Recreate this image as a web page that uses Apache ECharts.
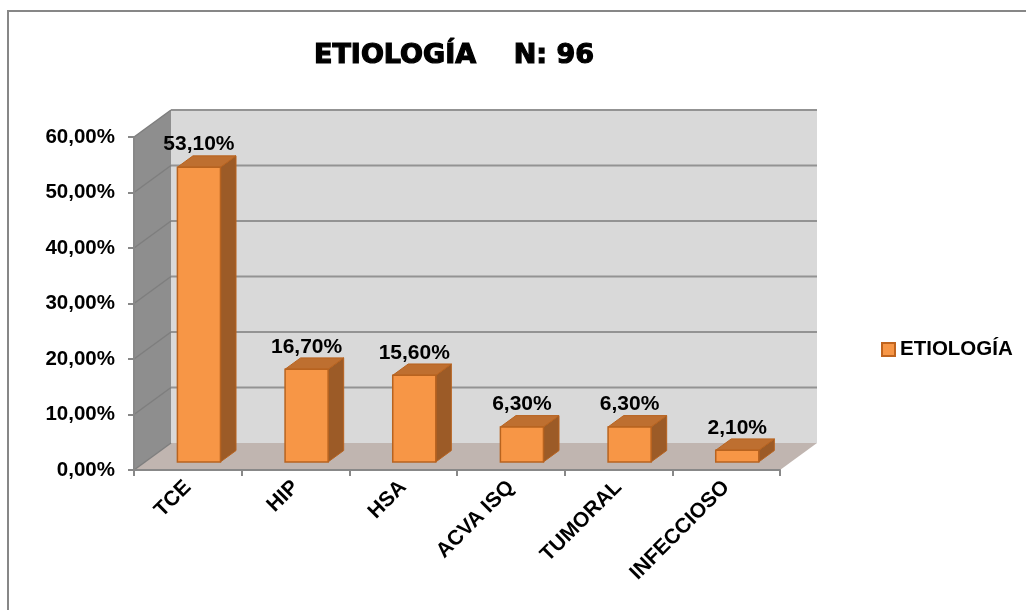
<!DOCTYPE html>
<html>
<head>
<meta charset="utf-8">
<script src="https://cdn.jsdelivr.net/npm/echarts@6/dist/echarts.min.js"></script>
<style>
html,body{margin:0;padding:0;background:#fff;}
#chart{width:1026px;height:610px;}
</style>
</head>
<body>
<div id="chart"></div>
<script>
const categories = ['TCE', 'HIP', 'HSA', 'ACVA ISQ', 'TUMORAL', 'INFECCIOSO'];
const values = [53.1, 16.7, 15.6, 6.3, 6.3, 2.1];
const seriesName = 'ETIOLOGÍA';
const titleText = 'ETIOLOGÍA    N: 96';
const yMin = 0, yMax = 60, yStep = 10;
const yTicks = [0, 10, 20, 30, 40, 50, 60];

const FONT = '"Liberation Sans", Arial, sans-serif';
const DX = 37, DY = -27;   // depth offset of the 3D box
const fmt = v => v.toFixed(2).replace('.', ',') + '%';

const chart = echarts.init(document.getElementById('chart'), null, {renderer: 'canvas'});

function renderWalls(params, api) {
  const cs = params.coordSys;
  const x0 = cs.x, y0 = cs.y, w = cs.width, h = cs.height;
  const children = [];
  children.push({type: 'rect', shape: {x: x0 + DX, y: y0 + DY, width: w, height: h},
    style: {fill: '#D9D9D9', stroke: null}});
  children.push({type: 'polygon', shape: {points: [[x0, y0 + h], [x0, y0], [x0 + DX, y0 + DY], [x0 + DX, y0 + h + DY]]},
    style: {fill: '#8E8E8E', stroke: null}});
  children.push({type: 'polygon', shape: {points: [[x0, y0 + h], [x0 + w, y0 + h], [x0 + w + DX, y0 + h + DY], [x0 + DX, y0 + h + DY]]},
    style: {fill: '#C0B5B0', stroke: null}});
  yTicks.forEach(function (v) {
    const y = api.coord([0, v])[1];
    children.push({type: 'polyline', shape: {points: [[x0, y], [x0 + DX, y + DY]]},
      style: {stroke: '#7E7E7E', lineWidth: 1.5, fill: null}});
    if (v > 0) {
      children.push({type: 'polyline', shape: {points: [[x0 + DX, y + DY], [x0 + w + DX, y + DY]]},
        style: {stroke: '#939393', lineWidth: 2, fill: null}});
    }
  });
  return {type: 'group', children: children};
}

function renderBar(params, api) {
  const idx = api.value(0);
  const c = api.coord([idx, 0]);
  const t = api.coord([idx, api.value(1)]);
  const bw = api.size([1, 0])[0];
  const f0 = 0.3, f1 = 0.72;
  const xl = c[0] - 0.2 * bw + f0 * DX, xr = c[0] + 0.2 * bw + f0 * DX;
  const yb = c[1] + f0 * DY, yt = t[1] + f0 * DY;
  const ddx = (f1 - f0) * DX, ddy = (f1 - f0) * DY;
  const stroke = '#B8631F';
  return {type: 'group', children: [
    {type: 'polygon', shape: {points: [[xr, yt], [xr, yb], [xr + ddx, yb + ddy], [xr + ddx, yt + ddy]]},
      style: {fill: '#9C5B27', stroke: stroke, lineWidth: 1}},
    {type: 'polygon', shape: {points: [[xl, yt], [xr, yt], [xr + ddx, yt + ddy], [xl + ddx, yt + ddy]]},
      style: {fill: '#BE6F30', stroke: stroke, lineWidth: 1}},
    {type: 'rect', shape: {x: xl, y: yt, width: xr - xl, height: yb - yt},
      style: {fill: '#F79646', stroke: stroke, lineWidth: 1.5}},
    {type: 'text', style: {text: fmt(api.value(1)), x: (xl + xr) / 2, y: yt - 12,
      align: 'center', verticalAlign: 'bottom', fill: '#000', font: 'bold 21px ' + FONT}}
  ]};
}

const option = {
  backgroundColor: '#ffffff',
  animation: false,
  title: {
    text: titleText,
    left: 309, top: 37,
    textStyle: {fontFamily: '"DejaVu Sans", sans-serif', fontWeight: 'bold', fontSize: 27, color: '#000',
      textBorderColor: '#000', textBorderWidth: 1.2}
  },
  graphic: [{
    type: 'rect', z: -10, silent: true,
    shape: {x: 8, y: 11, width: 1200, height: 800},
    style: {fill: null, stroke: '#878787', lineWidth: 2}
  }],
  legend: {
    data: [seriesName],
    left: 876, top: 334,
    icon: 'rect', itemWidth: 13, itemHeight: 13,
    textStyle: {fontFamily: FONT, fontWeight: 'bold', fontSize: 20.5, color: '#000'}
  },
  grid: {left: 134, top: 137, width: 646, height: 333, containLabel: false},
  xAxis: {
    type: 'category',
    data: categories,
    axisLine: {lineStyle: {color: '#888888', width: 2}},
    axisTick: {show: true, length: 6, lineStyle: {color: '#888888', width: 2}},
    axisLabel: {rotate: 45, margin: 14, interval: 0, color: '#000', fontFamily: FONT, fontWeight: 'bold', fontSize: 21}
  },
  yAxis: {
    type: 'value',
    min: yMin, max: yMax, interval: yStep,
    axisLine: {show: true, lineStyle: {color: '#888888', width: 2}},
    axisTick: {show: true, length: 6, lineStyle: {color: '#888888', width: 2}},
    splitLine: {show: false},
    axisLabel: {margin: 19, color: '#000', fontFamily: FONT, fontWeight: 'bold', fontSize: 20.5,
      formatter: fmt}
  },
  series: [
    {
      name: 'walls', type: 'custom', z: -1, silent: true,
      renderItem: renderWalls,
      data: [[0, 0]]
    },
    {
      name: seriesName, type: 'custom', z: 3,
      itemStyle: {color: '#F79646', borderColor: '#C0641E', borderWidth: 1},
      renderItem: renderBar,
      encode: {x: 0, y: 1},
      data: values.map((v, i) => [i, v])
    }
  ]
};
chart.setOption(option);
</script>
</body>
</html>
